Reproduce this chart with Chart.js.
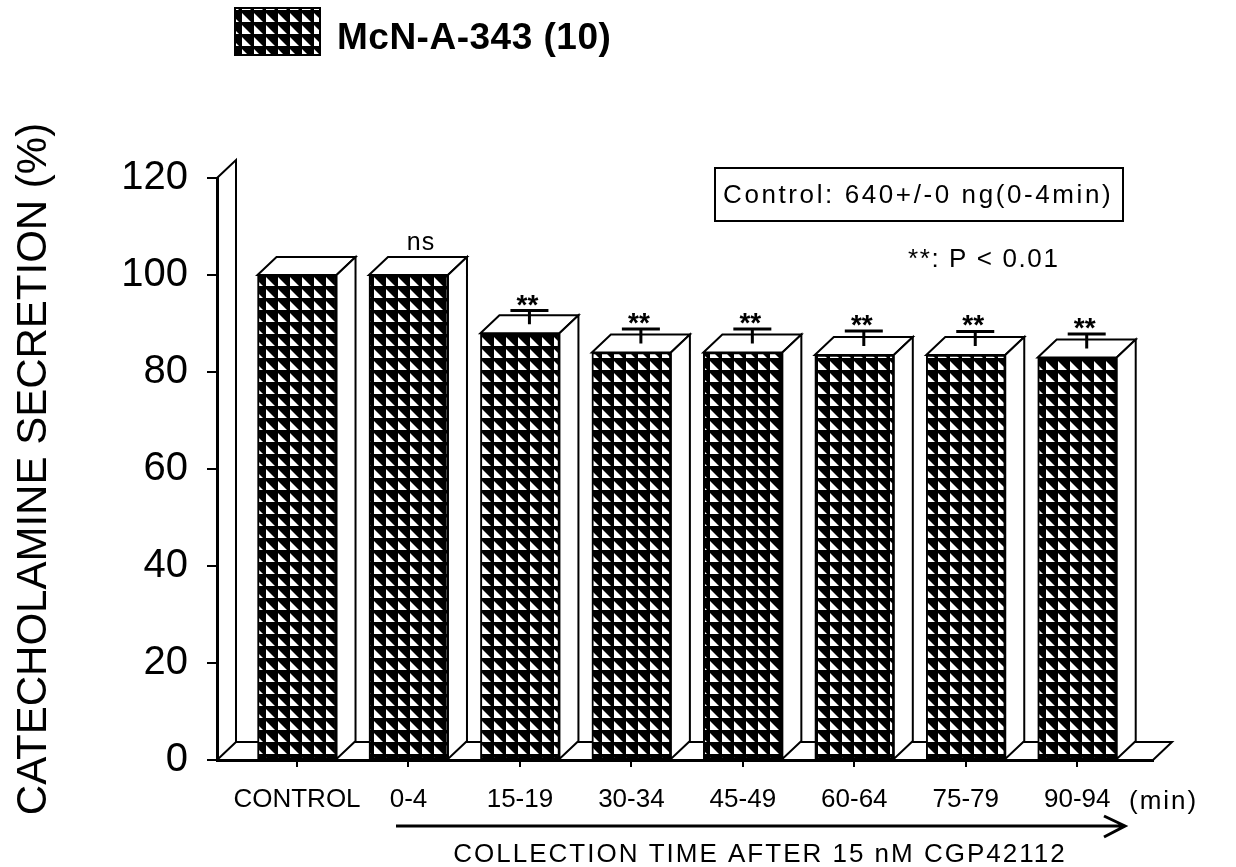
<!DOCTYPE html>
<html>
<head>
<meta charset="utf-8">
<script src="https://cdn.jsdelivr.net/npm/chart.js@4.4.0/dist/chart.umd.min.js"></script>
<style>
  html, body { margin: 0; padding: 0; background: #fff; }
  #cadre { width: 1236px; height: 867px; }
</style>
</head>
<body>
<div id="cadre"><canvas id="graphique"></canvas></div>
<script>
// données
const categories = ["CONTROL", "0-4", "15-19", "30-34", "45-49", "60-64", "75-79", "90-94"];
const secretion = [100, 100, 88, 84, 84, 83.5, 83.5, 83];
const erreurs = [0, 0, 2.8, 3, 3, 3.1, 3, 3];
const signif = ["", "ns", "**", "**", "**", "**", "**", "**"];
const yTicks = [0, 20, 40, 60, 80, 100, 120];

const legende = "McN-A-343 (10)";
const noteControle = "Control: 640+/-0 ng(0-4min)";
const noteP = "**: P < 0.01";
const unite = "(min)";
const legendeX = "COLLECTION TIME AFTER 15 nM CGP42112";
const titreY = "CATECHOLAMINE SECRETION (%)";

const POLICE = '"Liberation Sans", Arial, Helvetica, sans-serif';
const DX = 19, DY = -18; // profondeur 3D

function motif() {
  const c = document.createElement("canvas");
  c.width = 12; c.height = 12;
  const g = c.getContext("2d");
  g.fillStyle = "#000";
  g.fillRect(0, 0, 12, 12);
  g.fillStyle = "#fff";
  g.beginPath();
  g.moveTo(2, 1); g.lineTo(2, 10); g.lineTo(11, 10);
  g.closePath();
  g.fill();
  return g.createPattern(c, "repeat");
}
const hachure = motif();

function face(ctx, pts) {
  ctx.beginPath();
  ctx.moveTo(pts[0][0], pts[0][1]);
  for (let i = 1; i < pts.length; i++) ctx.lineTo(pts[i][0], pts[i][1]);
  ctx.closePath();
  ctx.fillStyle = "#fff";
  ctx.fill();
  ctx.stroke();
}

function texte(ctx, t, x, y, taille, align, espace, gras) {
  ctx.font = (gras ? "bold " : "") + taille + "px " + POLICE;
  ctx.letterSpacing = (espace || 0) + "px";
  ctx.textAlign = align || "left";
  ctx.textBaseline = "alphabetic";
  ctx.fillStyle = "#000";
  ctx.fillText(t, x, y);
  ctx.letterSpacing = "0px";
}

const relief = {
  id: "relief",
  beforeDatasetsDraw(chart) {
    const { ctx, chartArea: a } = chart;
    ctx.save();
    ctx.strokeStyle = "#000";
    ctx.lineWidth = 2;
    ctx.beginPath();
    ctx.moveTo(a.left, a.top);
    ctx.lineTo(a.left + DX, a.top + DY);
    ctx.lineTo(a.left + DX, a.bottom + DY);
    ctx.lineTo(a.right + DX, a.bottom + DY);
    ctx.lineTo(a.right, a.bottom);
    ctx.moveTo(a.left, a.bottom);
    ctx.lineTo(a.left + DX, a.bottom + DY);
    ctx.stroke();
    ctx.restore();
  },
  afterDatasetsDraw(chart) {
    const { ctx } = chart;
    const sy = chart.scales.y;
    const meta = chart.getDatasetMeta(0);
    ctx.save();
    ctx.strokeStyle = "#000";
    ctx.lineWidth = 2;
    meta.data.forEach((b, i) => {
      const xl = b.x - b.width / 2, xr = b.x + b.width / 2;
      const yt = b.y, yb = b.base;
      face(ctx, [[xl, yt], [xl + DX, yt + DY], [xr + DX, yt + DY], [xr, yt]]);
      face(ctx, [[xr, yt], [xr + DX, yt + DY], [xr + DX, yb + DY], [xr, yb]]);

      const xm = b.x + DX / 2;
      let yLab = yt + DY - 7;
      if (erreurs[i] > 0) {
        const ye = sy.getPixelForValue(secretion[i] + erreurs[i]) + DY / 2;
        ctx.lineWidth = 3;
        ctx.beginPath();
        ctx.moveTo(xm, yt + DY / 2);
        ctx.lineTo(xm, ye);
        ctx.moveTo(xm - 19, ye);
        ctx.lineTo(xm + 19, ye);
        ctx.stroke();
        ctx.lineWidth = 2;
        yLab = ye + 3;
      }
      if (signif[i] === "**") texte(ctx, signif[i], xm - 2, yLab, 28, "center", 0, true);
      else if (signif[i]) texte(ctx, signif[i], xm + 3, yLab, 25, "center", 1);
    });

    // légende
    ctx.fillStyle = hachure;
    ctx.fillRect(235, 8, 85, 47);
    ctx.strokeRect(235, 8, 85, 47);
    texte(ctx, legende, 337, 49, 37, "left", 0.5, true);

    // encadré contrôle
    ctx.strokeRect(715, 168, 408, 53);
    texte(ctx, noteControle, 723, 203, 26, "left", 2.6);
    texte(ctx, noteP, 908, 267, 26, "left", 1.6);

    // unité et flèche
    texte(ctx, unite, 1129, 809, 26, "left", 2);
    ctx.lineWidth = 3;
    ctx.beginPath();
    ctx.moveTo(396, 826);
    ctx.lineTo(1124, 826);
    ctx.moveTo(1104, 816);
    ctx.lineTo(1125, 826);
    ctx.lineTo(1104, 837);
    ctx.stroke();
    texte(ctx, legendeX, 760, 862, 26, "center", 2);
    ctx.restore();
  }
};

Chart.defaults.font.family = POLICE;
Chart.defaults.color = "#000";

new Chart(document.getElementById("graphique"), {
  type: "bar",
  data: {
    datasets: [{
      label: legende,
      data: categories.map((c, i) => ({ x: i, y: secretion[i] })),
      backgroundColor: hachure,
      borderColor: "#000",
      borderWidth: 2,
      borderSkipped: false,
      barThickness: 79
    }]
  },
  options: {
    responsive: true,
    maintainAspectRatio: false,
    animation: false,
    layout: { padding: { top: 178, right: 83, left: 0, bottom: 0 } },
    plugins: { legend: { display: false }, tooltip: { enabled: false } },
    scales: {
      x: {
        type: "linear",
        offset: false,
        min: -0.718,
        max: 7.68,
        afterFit(s) { s.height = 107; },
        afterBuildTicks(s) { s.ticks = categories.map((c, i) => ({ value: i })); },
        ticks: {
          callback: v => categories[v],
          font: { size: 26 },
          color: "#000",
          padding: 17,
          maxRotation: 0,
          autoSkip: false
        },
        grid: { offset: false, drawOnChartArea: false, tickLength: 7, color: "#000", lineWidth: 2 },
        border: { color: "#000", width: 3 }
      },
      y: {
        min: 0,
        max: 120,
        afterFit(s) { s.width = 217; },
        afterBuildTicks(s) { s.ticks = yTicks.map(v => ({ value: v })); },
        ticks: { font: { size: 40 }, color: "#000", padding: 19 },
        grid: { drawOnChartArea: false, tickLength: 10, color: "#000", lineWidth: 2 },
        border: { color: "#000", width: 3 },
        title: {
          display: true,
          text: titreY,
          font: { size: 42 },
          color: "#000",
          padding: { top: 9, bottom: 0 }
        }
      }
    }
  },
  plugins: [relief]
});
</script>
</body>
</html>
